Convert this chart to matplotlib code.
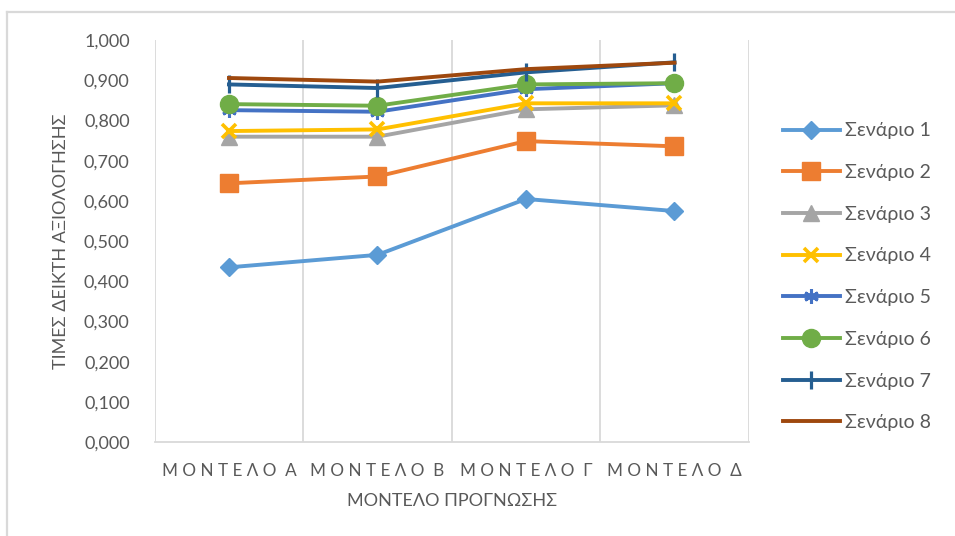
import matplotlib.pyplot as plt
from matplotlib.lines import Line2D

plt.rcParams['font.family'] = ['Lato', 'Open Sans', 'DejaVu Sans']

models = ["Μ Ο Ν Τ Ε Λ Ο  Α", "Μ Ο Ν Τ Ε Λ Ο  Β", "Μ Ο Ν Τ Ε Λ Ο  Γ", "Μ Ο Ν Τ Ε Λ Ο  Δ"]

scenario_1 = [0.435, 0.466, 0.605, 0.575]
scenario_2 = [0.644, 0.661, 0.749, 0.736]
scenario_3 = [0.760, 0.760, 0.828, 0.838]
scenario_4 = [0.774, 0.778, 0.843, 0.843]
scenario_5 = [0.826, 0.822, 0.878, 0.893]
scenario_6 = [0.841, 0.837, 0.890, 0.893]
scenario_7 = [0.890, 0.881, 0.920, 0.945]
scenario_8 = [0.906, 0.897, 0.928, 0.944]

series = [scenario_1, scenario_2, scenario_3, scenario_4,
          scenario_5, scenario_6, scenario_7, scenario_8]
names = ["Σενάριο %d" % i for i in range(1, 9)]

colors = ["#5B9BD5", "#ED7D31", "#A5A5A5", "#FFC000",
          "#4472C4", "#70AD47", "#255E91", "#9E480E"]
styles = [dict(marker="D", ms=9.5),
          dict(marker="s", ms=12.5),
          dict(marker="^", ms=11),
          dict(marker="x", ms=10.5, mew=2.6),
          dict(marker=(6, 2, 0), ms=10.5, mew=2.2),
          dict(marker="o", ms=13),
          dict(marker="|", ms=12.5, mew=2.3),
          dict(marker=None)]

text_color = "#595959"
grid_color = "#d9d9d9"

fig = plt.figure(figsize=(9.55, 5.36), dpi=100)
ax = fig.add_axes([0.162, 0.175, 0.622, 0.75])

x = list(range(len(models)))
for vals, name, c, st in zip(series, names, colors, styles):
    ax.plot(x, vals, color=c, lw=2.8, label=name, solid_joinstyle="round", **st)

ax.set_xlim(-0.5, len(models) - 0.5)
ax.set_ylim(0, 1)
yticks = [i / 10 for i in range(11)]
ax.set_yticks(yticks)
ax.set_yticklabels([("%.3f" % v).replace(".", ",") for v in yticks])
ax.set_xticks(x)
ax.set_xticklabels(models, fontsize=12.3)

# vertical gridlines between categories, Excel style
for b in [-0.5, 0.5, 1.5, 2.5, 3.5]:
    ax.axvline(b, color=grid_color, lw=1.3, zorder=0)

for side in ["top", "right", "left"]:
    ax.spines[side].set_visible(False)
ax.spines["bottom"].set_color(grid_color)
ax.spines["bottom"].set_linewidth(1.3)
ax.tick_params(length=0, colors=text_color)
ax.tick_params(axis="y", pad=18, labelsize=13)
ax.tick_params(axis="x", pad=15)

ax.set_ylabel("ΤΙΜΕΣ ΔΕΙΚΤΗ ΑΞΙΟΛΟΓΗΣΗΣ", color=text_color, fontsize=13, labelpad=11)
ax.set_xlabel("ΜΟΝΤΕΛΟ ΠΡΟΓΝΩΣΗΣ", color=text_color, fontsize=13, labelpad=10)

leg = ax.legend(loc="upper left", bbox_to_anchor=(1.045, 0.815), frameon=False,
                fontsize=14, handlelength=2.9, handletextpad=0.3, labelspacing=1.27,
                borderaxespad=0)
for t in leg.get_texts():
    t.set_color(text_color)

# chart area border (top and left edges)
fig.add_artist(Line2D([0.0075, 1.0], [1 - 12 / 536, 1 - 12 / 536], color=grid_color, lw=1.6))
fig.add_artist(Line2D([0.0075, 0.0075], [0.0, 1 - 12 / 536], color=grid_color, lw=1.6))

fig.savefig("out.png", dpi=100)
